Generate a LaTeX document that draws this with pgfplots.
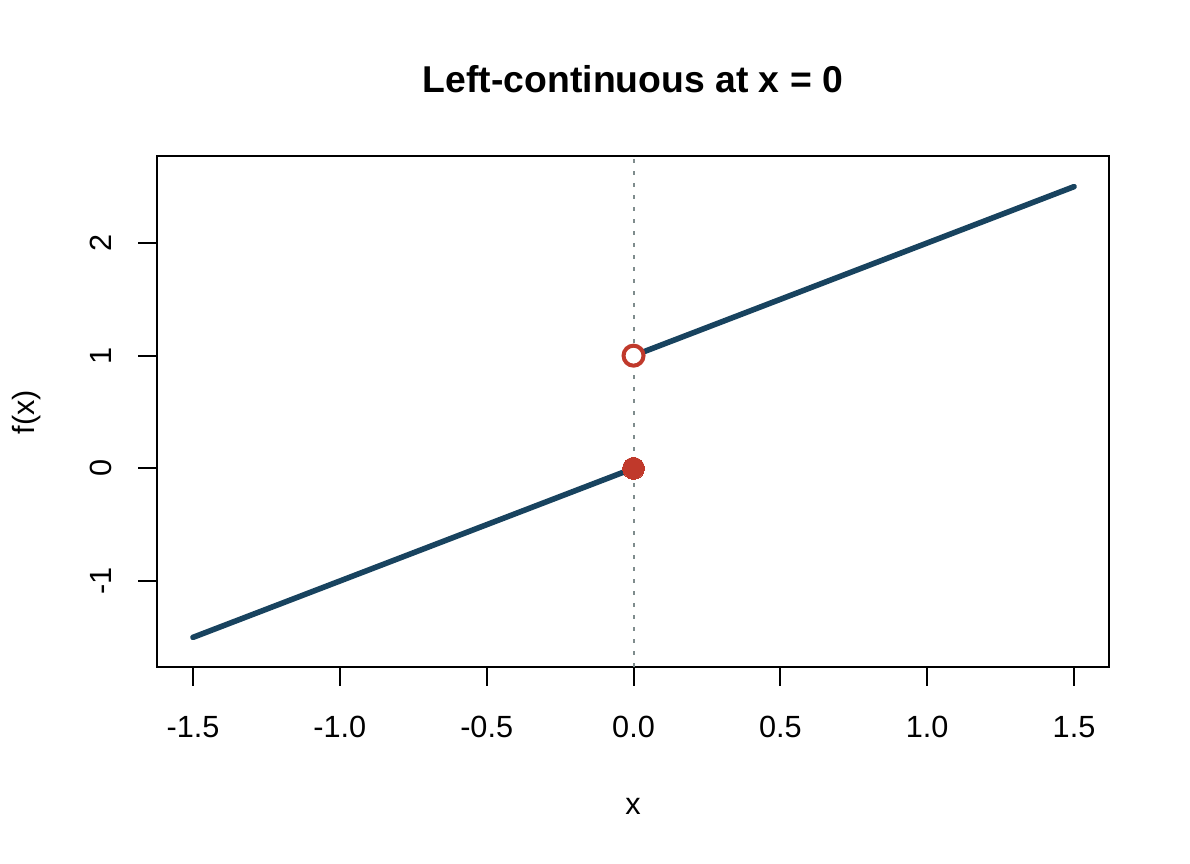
\documentclass[border=0pt]{standalone}
\usepackage{fontspec}
\setmainfont{Liberation Sans}
\usepackage{pgfplots}
\pgfplotsset{compat=1.18}
\definecolor{lineblue}{HTML}{18435F}
\definecolor{ptred}{HTML}{C0392B}
\definecolor{dotgray}{HTML}{7F8C8D}
\begin{document}
\begin{tikzpicture}[x=0.75pt,y=0.75pt]
\path[use as bounding box] (0,0) rectangle (1190,864);
\node[font=\fontsize{28}{30}\selectfont\bfseries, anchor=base, inner sep=0pt] at (633,771) {Left-continuous at x = 0};
\node[font=\fontsize{23}{25}\selectfont, anchor=base, inner sep=0pt] at (633,49) {x};
\node[font=\fontsize{23}{25}\selectfont, anchor=base, inner sep=0pt, rotate=90] at (35,452) {f(x)};
\begin{axis}[
  at={(117.75pt,147.75pt)}, anchor=south west,
  scale only axis, width=714pt, height=383.25pt,
  xmin=-1.6226, xmax=1.619, ymin=-1.763, ymax=2.772,
  axis line style={line width=1.5pt},
  every tick/.style={line width=1.5pt, black},
  tick align=outside, major tick length=14pt,
  xtick pos=bottom, ytick pos=left,
  xtick={-1.5,-1,-0.5,0,0.5,1,1.5},
  xticklabels={-1.5,-1.0,-0.5,0.0,0.5,1.0,1.5},
  ytick={-1,0,1,2},
  yticklabels={-1,0,1,2},
  ticklabel style={font=\fontsize{23}{25}\selectfont, inner sep=0pt},
  xticklabel style={anchor=base},
  yticklabel style={rotate=90, anchor=base},
  xticklabel shift=39.25pt,
  yticklabel shift=19.75pt,
  clip=true,
]
\addplot[dotgray, line width=1.5pt, dash pattern=on 3pt off 6pt] coordinates {(0,-1.763) (0,2.772)};
\addplot[lineblue, line width=4.2pt, line cap=round] coordinates {(-1.5,-1.5) (0,0)};
\addplot[lineblue, line width=4.2pt, line cap=round] coordinates {(0,1) (1.5,2.5)};
\addplot[only marks, mark=*, mark size=8.25pt, mark options={fill=ptred, draw=ptred, line width=0pt}] coordinates {(0,0)};
\addplot[only marks, mark=*, mark size=7.5pt, mark options={fill=white, draw=ptred, line width=3pt}] coordinates {(0,1)};
\end{axis}
\end{tikzpicture}
\end{document}
